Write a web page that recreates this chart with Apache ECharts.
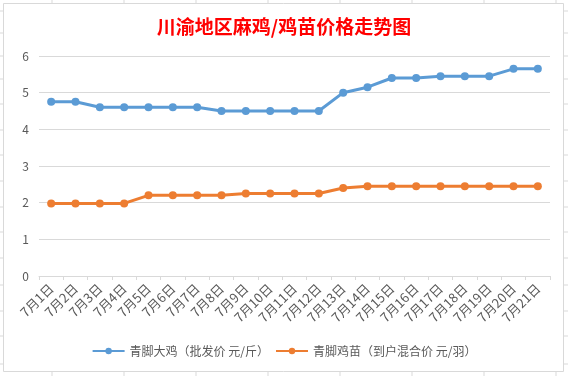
<!DOCTYPE html>
<html>
<head>
<meta charset="utf-8">
<script src="https://cdn.jsdelivr.net/npm/echarts@6/dist/echarts.min.js"></script>
<style>
    html, body { margin: 0; padding: 0; background: #fff; }
    #chart { width: 568px; height: 376px; }
</style>
</head>
<body>
<div id="chart"></div>
<script>
// 日期
var days = ['7月1日', '7月2日', '7月3日', '7月4日', '7月5日', '7月6日', '7月7日',
    '7月8日', '7月9日', '7月10日', '7月11日', '7月12日', '7月13日', '7月14日',
    '7月15日', '7月16日', '7月17日', '7月18日', '7月19日', '7月20日', '7月21日'];
// 青脚大鸡 批发价 元/斤
var chickenPrice = [4.75, 4.75, 4.6, 4.6, 4.6, 4.6, 4.6, 4.5, 4.5, 4.5, 4.5, 4.5,
    5.0, 5.15, 5.4, 5.4, 5.45, 5.45, 5.45, 5.65, 5.65];
// 青脚鸡苗 到户混合价 元/羽
var chickPrice = [1.98, 1.98, 1.98, 1.98, 2.2, 2.2, 2.2, 2.2, 2.25, 2.25, 2.25, 2.25,
    2.4, 2.45, 2.45, 2.45, 2.45, 2.45, 2.45, 2.45, 2.45];
var seriesNames = ['青脚大鸡（批发价 元/斤）', '青脚鸡苗（到户混合价 元/羽）'];
var yTicks = [0, 6, 1];   // min, max, interval

var gridColor = '#d9d9d9';
var textColor = '#595959';
var font = '"Noto Sans CJK SC", "Microsoft YaHei", sans-serif';

// 表格背景的格线（图表外框以外露出的部分）
var sheetCols = [52, 124, 196, 268, 340, 412, 484, 556];
var sheetRows = [11, 33, 56, 79, 104, 130, 155, 181, 207, 232, 258, 285, 311, 336, 364];
var bg = [];
for (var i = 0; i < sheetCols.length; i++) {
    bg.push({ type: 'line', z: -1, shape: { x1: sheetCols[i], y1: 0, x2: sheetCols[i], y2: 3 },
        style: { stroke: gridColor, lineWidth: 1 } });
    bg.push({ type: 'line', z: -1, shape: { x1: sheetCols[i], y1: 372, x2: sheetCols[i], y2: 376 },
        style: { stroke: gridColor, lineWidth: 1 } });
}
for (var j = 0; j < sheetRows.length; j++) {
    bg.push({ type: 'line', z: -1, shape: { x1: 0, y1: sheetRows[j], x2: 3, y2: sheetRows[j] },
        style: { stroke: gridColor, lineWidth: 1 } });
    bg.push({ type: 'line', z: -1, shape: { x1: 564, y1: sheetRows[j], x2: 568, y2: sheetRows[j] },
        style: { stroke: gridColor, lineWidth: 1 } });
}
bg.push({ type: 'rect', z: -1, shape: { x: 3.5, y: 3.5, width: 560, height: 368 },
    style: { fill: '#fff', stroke: gridColor, lineWidth: 1 } });

var chart = echarts.init(document.getElementById('chart'), null, { renderer: 'canvas' });
var option = {
    animation: false,
    textStyle: { fontFamily: font },
    title: {
        text: '川渝地区麻鸡/鸡苗价格走势图',
        left: 'center',
        top: 12,
        textStyle: { color: '#ff0000', fontSize: 19, fontWeight: 'bold', fontFamily: font }
    },
    graphic: bg,
    legend: {
        data: seriesNames,
        bottom: 14,
        left: 'center',
        itemWidth: 32,
        itemHeight: 8,
        itemGap: 6,
        textStyle: { color: textColor, fontSize: 12, fontFamily: font }
    },
    grid: { left: 39, right: 18, top: 56, bottom: 100 },
    xAxis: {
        type: 'category',
        data: days,
        boundaryGap: true,
        axisLine: { lineStyle: { color: gridColor } },
        axisTick: { show: true, length: 4, lineStyle: { color: gridColor } },
        axisLabel: { rotate: 45, interval: 0, color: textColor, fontSize: 13, margin: 10 }
    },
    yAxis: {
        type: 'value',
        min: yTicks[0],
        max: yTicks[1],
        interval: yTicks[2],
        axisLine: { show: false },
        axisTick: { show: false },
        axisLabel: { color: textColor, fontSize: 12, margin: 10 },
        splitLine: { lineStyle: { color: gridColor } }
    },
    series: [
        {
            name: seriesNames[0],
            type: 'line',
            data: chickenPrice,
            color: '#5b9bd5',
            symbol: 'circle',
            symbolSize: 8,
            lineStyle: { width: 3 }
        },
        {
            name: seriesNames[1],
            type: 'line',
            data: chickPrice,
            color: '#ed7d31',
            symbol: 'circle',
            symbolSize: 8,
            lineStyle: { width: 3 }
        }
    ]
};
chart.setOption(option);
</script>
</body>
</html>
